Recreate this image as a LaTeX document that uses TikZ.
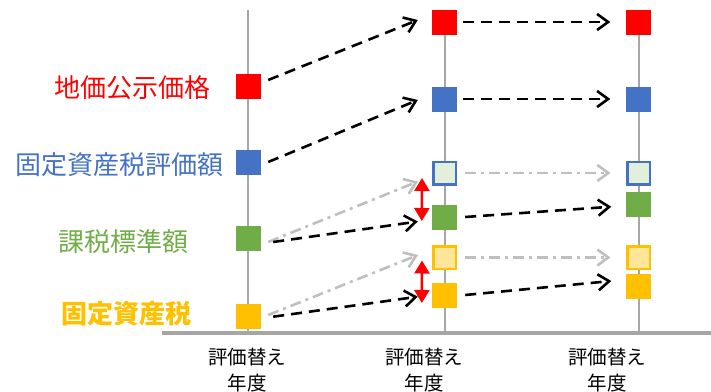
\documentclass[tikz,border=0pt]{standalone}
\usepackage{fontspec}
\setmainfont{Noto Sans CJK JP}
\usetikzlibrary{arrows.meta}
\definecolor{cRed}{HTML}{FF0000}
\definecolor{cBlue}{HTML}{4472C4}
\definecolor{cGreen}{HTML}{70AD47}
\definecolor{cYellow}{HTML}{FFC000}
\definecolor{cLGreen}{HTML}{E2EFDA}
\definecolor{cLYellow}{HTML}{FFE699}
\definecolor{cAxis}{HTML}{A6A6A6}
\definecolor{cDash}{HTML}{BFBFBF}
\tikzset{
  sq/.style={rectangle, minimum size=25pt, inner sep=0pt, draw=none},
  sqo/.style={rectangle, minimum size=22.5pt, inner sep=0pt, line width=2.5pt},
  vline/.style={draw=cAxis, line width=2pt},
  blk/.style={black, line width=2.6pt, dash pattern=on 11pt off 7pt,
    -{Straight Barb[length=11pt,width=16pt,line width=2.6pt]}},
  gry/.style={cDash, line width=2.6pt, dash pattern=on 11pt off 5pt on 3pt off 5pt,
    -{Straight Barb[length=11pt,width=16pt,line width=2.6pt]}},
  dbl/.style={cRed, line width=2.6pt, {Triangle[length=13pt,width=15pt]}-{Triangle[length=13pt,width=15pt]}},
  lbl/.style={inner sep=0pt, font=\fontsize{26}{30}\selectfont},
  yr/.style={inner sep=0pt, align=center, font=\fontsize{19.5}{26}\selectfont}
}
\begin{document}
\begin{tikzpicture}[x=1pt,y=-1pt]
\useasboundingbox (0,0) rectangle (711,391);
% vertical lines and base axis
\draw[vline] (248,10) -- (248,331);
\draw[vline] (445,10) -- (445,331);
\draw[vline] (638.5,10) -- (638.5,331);
\draw[draw=cAxis, line width=4pt] (162,333) -- (711,333);
% column 1
\node[sq, fill=cRed] (r1) at (248,86) {};
\node[sq, fill=cBlue] (b1) at (248,162) {};
\node[sq, fill=cGreen] (g1) at (248,238) {};
\node[sq, fill=cYellow] (y1) at (248,316) {};
% column 2
\node[sq, fill=cRed] (r2) at (444.5,22.5) {};
\node[sq, fill=cBlue] (b2) at (444.5,99) {};
\node[sqo, fill=cLGreen, draw=cBlue] (gl2) at (444.5,173) {};
\node[sq, fill=cGreen] (g2) at (444.5,217) {};
\node[sqo, fill=cLYellow, draw=cYellow] (yl2) at (444.5,257.5) {};
\node[sq, fill=cYellow] (y2) at (444.5,295) {};
% column 3
\node[sq, fill=cRed] (r3) at (638.5,22) {};
\node[sq, fill=cBlue] (b3) at (638.5,99) {};
\node[sqo, fill=cLGreen, draw=cBlue] (gl3) at (638.5,173) {};
\node[sq, fill=cGreen] (g3) at (638.5,204) {};
\node[sqo, fill=cLYellow, draw=cYellow] (yl3) at (638.5,257.5) {};
\node[sq, fill=cYellow] (y3) at (638.5,286) {};
% labels
\node[lbl, text=cRed] (t1) at (132,88) {地価公示価格};
\node[lbl, text=cBlue] (t2) at (119,165) {固定資産税評価額};
\node[lbl, text=cGreen] (t3) at (123.5,241.5) {課税標準額};
\node[lbl, text=cYellow, font=\fontsize{26}{30}\selectfont\bfseries] (t4) at (126,314) {固定資産税};
\node[yr] (x1) at (247,370) {評価替え\\年度};
\node[yr] (x2) at (424,370) {評価替え\\年度};
\node[yr] (x3) at (607,370) {評価替え\\年度};
% arrows column 1 -> 2
\draw[blk] ([shift={(7.5,-6)}]r1.east) -- ([shift={(-14,-2.5)}]r2.west);
\draw[blk] ([shift={(7.5,0)}]b1.east) -- ([shift={(-14,1)}]b2.west);
\draw[gry] ([shift={(7.5,4)}]g1.east) -- ([shift={(-14,8.5)}]gl2.west);
\draw[blk] ([shift={(12.5,4)}]g1.east) -- ([shift={(-14,4.5)}]g2.west);
\draw[gry] ([shift={(7.5,-1)}]y1.east) -- ([shift={(-14,-2.5)}]yl2.west);
\draw[blk] ([shift={(12.5,0.7)}]y1.east) -- ([shift={(-14,1.7)}]y2.west);
% arrows column 2 -> 3
\draw[blk] ([shift={(6,-0.5)}]r2.east) -- ([shift={(-15.5,0)}]r3.west);
\draw[blk] ([shift={(6,0)}]b2.east) -- ([shift={(-15.5,0)}]b3.west);
\draw[gry] ([shift={(8,0)}]gl2.east) -- ([shift={(-15.5,0)}]gl3.west);
\draw[blk] ([shift={(8,0)}]g2.east) -- ([shift={(-14.5,2.7)}]g3.west);
\draw[gry] ([shift={(8,0)}]yl2.east) -- ([shift={(-15.5,0)}]yl3.west);
\draw[blk] ([shift={(8,0)}]y2.east) -- ([shift={(-14.5,-5)}]y3.west);
% red double arrows
\draw[dbl] ([shift={(-10,-7.5)}]gl2.south west) -- ([shift={(-10,4)}]g2.west);
\draw[dbl] ([shift={(-10,-9.5)}]yl2.south west) -- ([shift={(-10,8)}]y2.west);
\end{tikzpicture}
\end{document}
